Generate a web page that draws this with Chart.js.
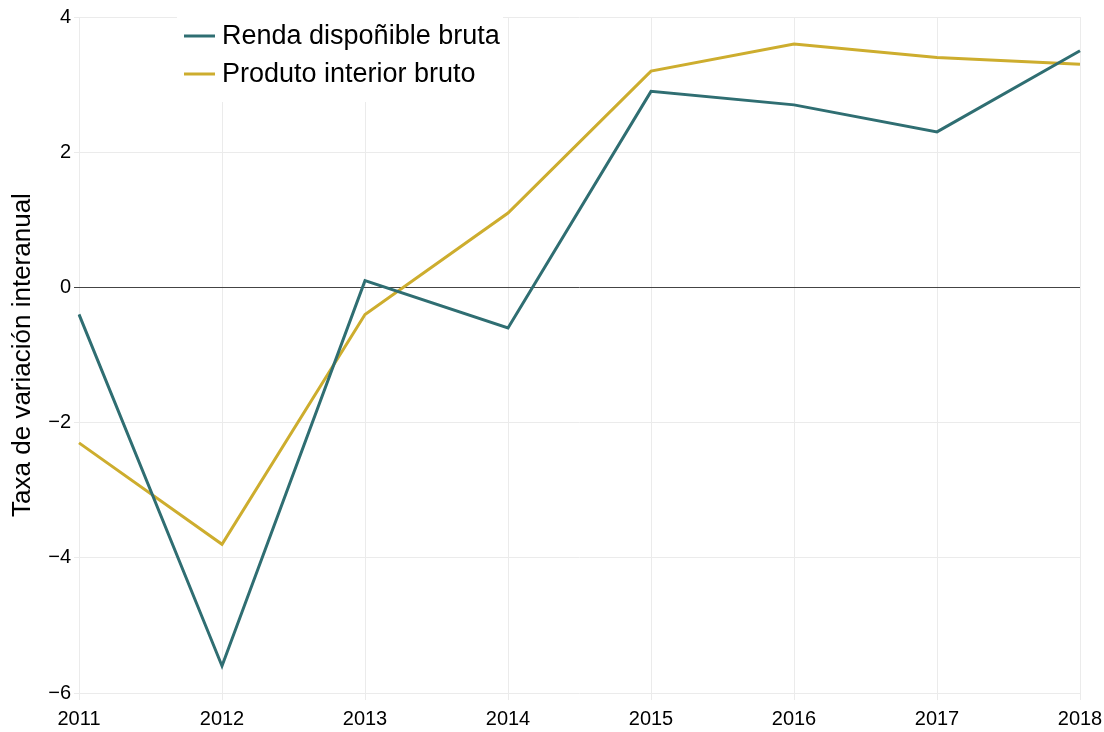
<!DOCTYPE html>
<html>
<head>
<meta charset="utf-8">
<script src="https://cdn.jsdelivr.net/npm/chart.js@4/dist/chart.umd.min.js"></script>
<style>
  html, body { margin: 0; padding: 0; background: #ffffff; }
  #wrap { width: 1104px; height: 732px; }
</style>
</head>
<body>
<div id="wrap"><canvas id="c" width="1104" height="732"></canvas></div>
<script>
const years = ['2011', '2012', '2013', '2014', '2015', '2016', '2017', '2018'];
const rendaDisponible = [-0.4, -5.6, 0.1, -0.6, 2.9, 2.7, 2.3, 3.5];
const productoInterior = [-2.3, -3.8, -0.4, 1.1, 3.2, 3.6, 3.4, 3.3];
const seriesNames = ['Renda dispoñible bruta', 'Produto interior bruto'];
const seriesColors = ['#2f6e72', '#cdad2e'];
const yTitle = 'Taxa de variación interanual';
const FONT = '"Liberation Sans", Arial, sans-serif';

const legendPlugin = {
  id: 'insideLegend',
  afterDraw(chart) {
    const ctx = chart.ctx;
    const area = chart.chartArea;
    ctx.save();
    const boxX = area.left + 98, boxY = 6, boxW = 326, boxH = 96;
    ctx.fillStyle = '#ffffff';
    ctx.fillRect(boxX, boxY, boxW, boxH);
    ctx.font = '27px ' + FONT;
    ctx.textBaseline = 'middle';
    chart.data.datasets.forEach((ds, i) => {
      const y = 36 + i * 38;
      ctx.strokeStyle = ds.borderColor;
      ctx.lineWidth = 3;
      ctx.beginPath();
      ctx.moveTo(boxX + 7, y);
      ctx.lineTo(boxX + 38, y);
      ctx.stroke();
      ctx.fillStyle = '#000000';
      ctx.fillText(ds.label, boxX + 45, y + 1);
    });
    ctx.restore();
  }
};

new Chart(document.getElementById('c'), {
  type: 'line',
  data: {
    labels: years,
    datasets: [
      { label: seriesNames[0], data: rendaDisponible, borderColor: seriesColors[0], backgroundColor: seriesColors[0], borderWidth: 3, pointRadius: 0, tension: 0, fill: false },
      { label: seriesNames[1], data: productoInterior, borderColor: seriesColors[1], backgroundColor: seriesColors[1], borderWidth: 3, pointRadius: 0, tension: 0, fill: false }
    ]
  },
  options: {
    responsive: false,
    animation: false,
    layout: { padding: { top: 17, right: 24, bottom: 0, left: 0 } },
    plugins: {
      legend: { display: false },
      tooltip: { enabled: false }
    },
    scales: {
      x: {
        type: 'category',
        offset: false,
        border: { display: false },
        grid: { color: '#ebebeb', lineWidth: 1, tickLength: 7, drawTicks: true },
        ticks: { color: '#000000', font: { family: FONT, size: 20 }, padding: 7, maxRotation: 0, autoSkip: false },
        afterFit(scale) { scale.height = 39; scale.paddingLeft = 0; scale.paddingRight = 0; }
      },
      y: {
        min: -6,
        max: 4,
        border: { display: false },
        grid: {
          color: (c) => (c.tick && c.tick.value === 0) ? '#444444' : '#ebebeb',
          lineWidth: 1,
          tickLength: 5
        },
        ticks: {
          stepSize: 2,
          color: '#000000',
          font: { family: FONT, size: 20 },
          padding: 3,
          callback: (v) => (v < 0 ? '\u2212' + Math.abs(v) : String(v))
        },
        title: {
          display: true,
          text: yTitle,
          color: '#000000',
          font: { family: FONT, size: 26 },
          padding: { top: 7, bottom: 0 }
        },
        afterFit(scale) { scale.width = 79; scale.paddingTop = 0; scale.paddingBottom = 0; }
      }
    }
  },
  plugins: [legendPlugin]
});
</script>
</body>
</html>
